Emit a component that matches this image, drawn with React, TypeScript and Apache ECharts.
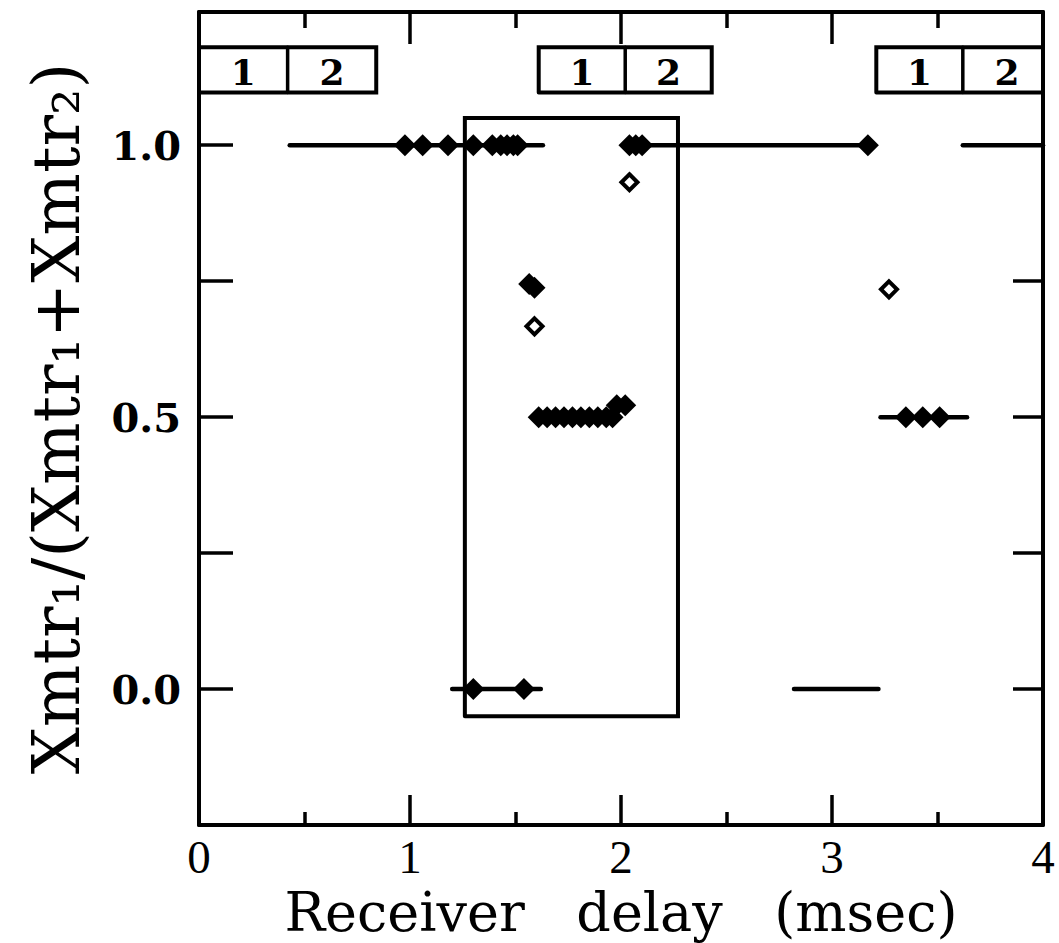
import React, { useEffect, useRef } from "react";
import * as echarts from "echarts";

// ---- data ----
const xMin = 0;
const xMax = 4;
const yMin = -0.25;
const yMax = 1.245;
const yLabelValues = [0, 0.5, 1.0];

// filled diamonds
const filledAtOne = [0.976, 1.06, 1.18, 1.3, 1.39, 1.43, 1.46, 1.49, 1.51, 2.04, 2.07, 2.1, 3.17];
const filledAtHalf = [1.61, 1.65, 1.69, 1.73, 1.77, 1.81, 1.85, 1.89, 1.93, 1.96, 3.35, 3.43, 3.51];
const filledAtZero = [1.3, 1.54];
const filledOther = [
  [1.98, 0.522],
  [2.02, 0.522],
  [1.565, 0.745],
  [1.59, 0.738],
];
// open diamonds
const openPoints = [
  [1.59, 0.667],
  [2.04, 0.932],
  [3.27, 0.735],
];
// horizontal line segments [x start, x end, y]
const segments = [
  [0.43, 1.63, 1.0],
  [2.04, 3.17, 1.0],
  [3.62, 4.0, 1.0],
  [1.2, 1.62, 0.0],
  [2.82, 3.22, 0.0],
  [3.23, 3.64, 0.5],
];
// inner rectangle
const innerBoxX = [1.26, 2.27];
const innerBoxY = [-0.05, 1.05];
// transmitter boxes: [left, divider, right]
const channelBoxes = [
  [0.0, 0.42, 0.84],
  [1.61, 2.02, 2.43],
  [3.21, 3.62, 4.04],
];
const channelBoxY = [1.097, 1.18];
const channelLabels = ["1", "2"];

const xTitle = "Receiver   delay   (msec)";
const yTitle = "Xmtr\u2081/(Xmtr\u2081+Xmtr\u2082)";

const BLACK = "#000";

export default function App() {
  const ref = useRef<HTMLDivElement>(null);

  useEffect(() => {
    document.body.style.margin = "0";
    if (!ref.current) return;
    const chart = echarts.init(ref.current, null, { renderer: "svg" });

    const lineStyleSeries = (data: number[][], width: number) => ({
      type: "line",
      data,
      xAxisIndex: 0,
      yAxisIndex: 0,
      showSymbol: false,
      symbol: "none",
      silent: true,
      clip: true,
      lineStyle: { color: BLACK, width, cap: "round", join: "miter", opacity: 1 },
      emphasis: { disabled: true },
    });

    const series: any[] = [];

    segments.forEach((s) => {
      series.push(
        lineStyleSeries(
          [
            [s[0], s[2]],
            [s[1], s[2]],
          ],
          4.5
        )
      );
    });

    series.push(
      lineStyleSeries(
        [
          [innerBoxX[0], innerBoxY[0]],
          [innerBoxX[1], innerBoxY[0]],
          [innerBoxX[1], innerBoxY[1]],
          [innerBoxX[0], innerBoxY[1]],
          [innerBoxX[0], innerBoxY[0]],
        ],
        4
      )
    );

    channelBoxes.forEach((b) => {
      series.push(
        lineStyleSeries(
          [
            [b[0], channelBoxY[0]],
            [b[2], channelBoxY[0]],
            [b[2], channelBoxY[1]],
            [b[0], channelBoxY[1]],
            [b[0], channelBoxY[0]],
          ],
          4
        )
      );
      series.push(
        lineStyleSeries(
          [
            [b[1], channelBoxY[0]],
            [b[1], channelBoxY[1]],
          ],
          3.5
        )
      );
    });

    const labelData: any[] = [];
    channelBoxes.forEach((b) => {
      const yc = (channelBoxY[0] + channelBoxY[1]) / 2;
      labelData.push([(b[0] + b[1]) / 2, yc, channelLabels[0]]);
      labelData.push([(b[1] + b[2]) / 2, yc, channelLabels[1]]);
    });

    series.push({
      type: "scatter",
      data: labelData,
      symbolSize: 0,
      silent: true,
      clip: true,
      itemStyle: { opacity: 1 },
      label: {
        show: true,
        position: "inside",
        formatter: (p: any) => p.value[2],
        fontFamily: "DejaVu Serif",
        fontWeight: "bold",
        fontSize: 36,
        color: BLACK,
        opacity: 1,
        offset: [0, 2],
      },
      emphasis: { disabled: true },
    });

    const filled = [
      ...filledAtOne.map((x) => [x, 1.0]),
      ...filledAtHalf.map((x) => [x, 0.5]),
      ...filledAtZero.map((x) => [x, 0.0]),
      ...filledOther,
    ];

    series.push({
      type: "scatter",
      data: filled,
      symbol: "diamond",
      symbolSize: 22,
      silent: true,
      itemStyle: { color: BLACK, opacity: 1 },
      emphasis: { disabled: true },
    });

    series.push({
      type: "scatter",
      data: openPoints,
      symbol: "diamond",
      symbolSize: 16,
      silent: true,
      itemStyle: { color: "#fff", borderColor: BLACK, borderWidth: 4, opacity: 1 },
      emphasis: { disabled: true },
    });

    const axisLine = { show: true, onZero: false, lineStyle: { color: BLACK, width: 4 } };

    chart.setOption({
      animation: false,
      backgroundColor: "#fff",
      grid: {
        left: 199,
        right: 16,
        top: 12,
        bottom: 118,
        containLabel: false,
        outerBoundsMode: "none",
      },
      xAxis: [
        {
          type: "value",
          position: "bottom",
          min: xMin,
          max: xMax,
          interval: 1,
          axisLine,
          axisTick: { show: true, inside: true, length: 30, lineStyle: { color: BLACK, width: 3.5 } },
          minorTick: { show: true, splitNumber: 2, length: 13, lineStyle: { color: BLACK, width: 3.5 } },
          splitLine: { show: false },
          minorSplitLine: { show: false },
          axisLabel: {
            show: true,
            margin: 8,
            fontFamily: "Liberation Serif",
            fontSize: 47,
            color: BLACK,
            formatter: (v: number) => String(Math.round(v)),
          },
          name: xTitle,
          nameLocation: "middle",
          nameGap: 44,
          nameTextStyle: { fontFamily: "DejaVu Serif", fontSize: 54, lineHeight: 56, color: BLACK },
        },
        {
          type: "value",
          position: "top",
          min: xMin,
          max: xMax,
          interval: 1,
          axisLine,
          axisTick: { show: true, inside: true, length: 32, lineStyle: { color: BLACK, width: 3.5 } },
          minorTick: { show: true, splitNumber: 2, length: 16, lineStyle: { color: BLACK, width: 3.5 } },
          splitLine: { show: false },
          axisLabel: { show: false },
        },
      ],
      yAxis: [
        {
          type: "value",
          position: "left",
          min: yMin,
          max: yMax,
          interval: 0.25,
          axisLine,
          axisTick: { show: true, inside: true, length: 34, lineStyle: { color: BLACK, width: 3.5 } },
          splitLine: { show: false },
          axisLabel: {
            show: true,
            margin: 18,
            fontFamily: "DejaVu Serif",
            fontWeight: "bold",
            fontSize: 40,
            color: BLACK,
            formatter: (v: number) =>
              yLabelValues.some((t) => Math.abs(t - v) < 1e-6) ? v.toFixed(1) : "",
          },
          name: yTitle,
          nameLocation: "middle",
          nameRotate: 90,
          nameGap: 110,
          nameTextStyle: { fontFamily: "DejaVu Serif", fontSize: 66, color: BLACK },
        },
        {
          type: "value",
          position: "right",
          min: yMin,
          max: yMax,
          interval: 0.25,
          axisLine,
          axisTick: { show: true, inside: true, length: 30, lineStyle: { color: BLACK, width: 3.5 } },
          splitLine: { show: false },
          axisLabel: { show: false },
        },
      ],
      series,
    });

    return () => {
      chart.dispose();
    };
  }, []);

  return <div ref={ref} style={{ width: 1059, height: 943 }} />;
}
